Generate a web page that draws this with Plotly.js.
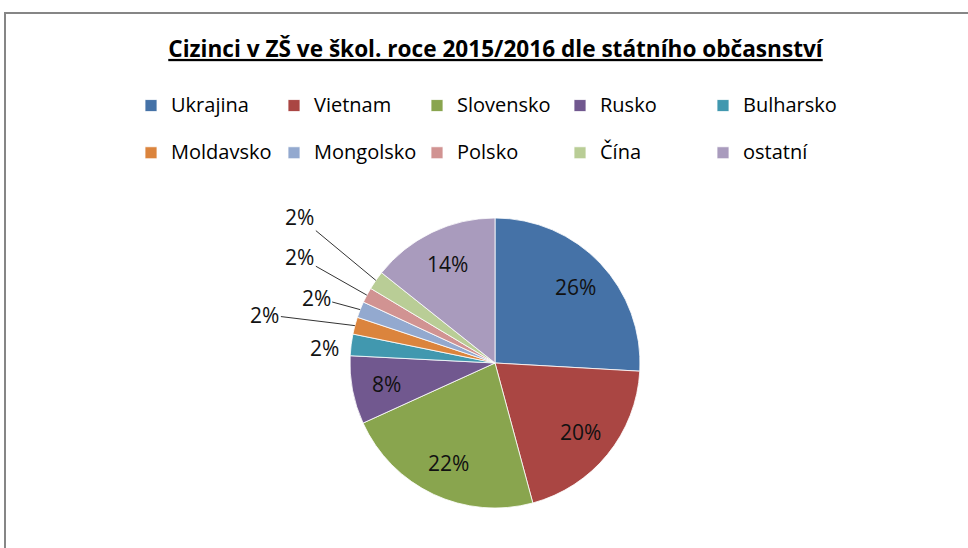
<!DOCTYPE html>
<html><head><meta charset="utf-8">
<script src="https://cdn.plot.ly/plotly-3.0.1.min.js"></script>
<style>html,body{margin:0;padding:0;background:#fff}#chart{width:968px;height:548px}</style>
</head><body><div id="chart"></div>
<script>
// ---- data ----
const categories = ['Ukrajina','Vietnam','Slovensko','Rusko','Bulharsko','Moldavsko','Mongolsko','Polsko','Čína','ostatní'];
const shares = [25.9, 19.9, 22.4, 7.6, 2.4, 1.9, 1.8, 1.7, 2.1, 14.3];
const titleText = 'Cizinci v ZŠ ve škol. roce 2015/2016 dle státního občasnství';

// ---- styles ----
const colors = ['#4572A7','#AA4643','#89A54E','#71588F','#4198AF','#DB843D','#93A9CF','#D19392','#B9CD96','#A99BBD'];
const labelOutside = [false,false,false,false,true,true,true,true,true,false];
// pixel offsets of the outside labels from the slice edge
const outsideOffX = [0,0,0,0,-27,-90,-44,-67,-76,0];
const outsideOffY = [0,0,0,0,3,-11,-12,-38,-63,0];
const withLeader = [false,false,false,false,false,true,true,true,true,false];
const insideRadiusFrac = 0.76;

const W = 968, H = 548;
const M = {l: 0, r: 200, t: 0, b: 0};     // right margin only makes the legend wrap after 5 entries
const GW = W - M.l - M.r, GH = H - M.t - M.b;
const px2x = p => (p - M.l) / GW;
const px2y = p => 1 - (p - M.t) / GH;

// pie placement (centre 495,363, radius 145 px)
const domX = [px2x(350), px2x(640)], domY = [px2y(508), px2y(218)];
const cx = M.l + (domX[0] + domX[1]) / 2 * GW;
const cy = M.t + GH * (1 - (domY[0] + domY[1]) / 2);
const R = Math.min((domX[1] - domX[0]) * GW, (domY[1] - domY[0]) * GH) / 2;

const total = shares.reduce((a, b) => a + b, 0);
const annotations = [];
let cum = 0;
shares.forEach((v, i) => {
  const mid = (cum + v / 2) / total;
  cum += v;
  const th = 2 * Math.PI * mid;
  const pct = Math.round(v / total * 100) + '%';
  const font = {family: 'Open Sans', size: 21, color: '#111'};
  const rr = labelOutside[i] ? R : insideRadiusFrac * R;
  const px = cx + rr * Math.sin(th);
  const py = cy - rr * Math.cos(th);
  const a = {x: px2x(px), y: px2y(py), xref: 'paper', yref: 'paper', text: pct, font: font};
  if (labelOutside[i] && withLeader[i]) {
    Object.assign(a, {showarrow: true, arrowhead: 0, arrowwidth: 1, arrowcolor: '#333',
      ax: outsideOffX[i], ay: outsideOffY[i], standoff: 0});
  } else {
    Object.assign(a, {showarrow: false, xanchor: 'center', yanchor: 'middle'});
    if (labelOutside[i]) { a.xshift = outsideOffX[i]; a.yshift = -outsideOffY[i]; }
  }
  annotations.push(a);
});

const trace = {
  type: 'pie',
  labels: categories.map(c => '<span style="font-size:20px">' + c + '</span><br>\u00a0'),
  values: shares,
  sort: false,
  direction: 'clockwise',
  rotation: 0,
  textinfo: 'none',
  hoverinfo: 'none',
  domain: {x: domX, y: domY},
  marker: {colors: colors, line: {color: '#ffffff', width: 0.8}}
};

const layout = {
  width: W, height: H,
  margin: M,
  paper_bgcolor: '#ffffff',
  title: {
    text: titleText,
    font: {family: 'Open Sans', size: 22.6, weight: 'bold', color: '#000', lineposition: 'under'},
    x: 495.5 / W, xanchor: 'center', xref: 'container',
    y: 1 - 49 / H, yanchor: 'middle', yref: 'container'
  },
  showlegend: true,
  legend: {
    orientation: 'h', x: px2x(131), xanchor: 'left', y: px2y(88), yanchor: 'top',
    font: {family: 'Open Sans', size: 17, color: '#000'},
    entrywidth: 98, entrywidthmode: 'pixels', valign: 'top',
    traceorder: 'normal', bgcolor: 'rgba(0,0,0,0)'
  },
  annotations: annotations,
  shapes: [{type: 'rect', xref: 'paper', yref: 'paper',
    x0: px2x(5), x1: px2x(1000), y0: px2y(13), y1: px2y(580),
    line: {color: '#868686', width: 2}, fillcolor: 'rgba(0,0,0,0)'}]
};

Plotly.newPlot('chart', [trace], layout, {displayModeBar: false, staticPlot: true});
</script>
</body></html>
